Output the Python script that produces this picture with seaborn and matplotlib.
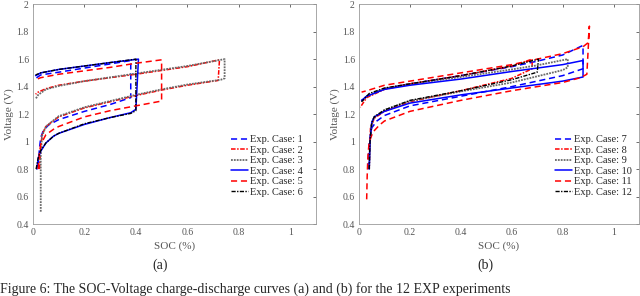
import numpy as np
import pandas as pd
import matplotlib
matplotlib.use("Agg")
import matplotlib.pyplot as plt
import seaborn as sns

# SOC-Voltage loops (charge branch, jump, discharge branch)
case1_soc = [0.02, 0.025, 0.03, 0.04, 0.06, 0.1, 0.2, 0.3, 0.38, 0.38, 0.3, 0.2, 0.1, 0.03, 0.01]
case1_v = [0.82, 0.95, 1.03, 1.08, 1.12, 1.16, 1.22, 1.27, 1.32, 1.59, 1.565, 1.535, 1.505, 1.485, 1.46]
case2_soc = [0.025, 0.03, 0.035, 0.05, 0.1, 0.2, 0.3, 0.4, 0.5, 0.6, 0.72, 0.725, 0.6, 0.4, 0.2, 0.1, 0.05, 0.02, 0.01]
case2_v = [0.8, 0.95, 1.05, 1.11, 1.18, 1.245, 1.29, 1.335, 1.375, 1.41, 1.445, 1.595, 1.545, 1.49, 1.44, 1.41, 1.385, 1.36, 1.345]
case3_soc = [0.03, 0.03, 0.035, 0.05, 0.1, 0.2, 0.3, 0.4, 0.5, 0.6, 0.73, 0.745, 0.745, 0.6, 0.4, 0.2, 0.1, 0.05, 0.02, 0.01]
case3_v = [0.49, 0.9, 1.04, 1.11, 1.185, 1.25, 1.295, 1.34, 1.38, 1.415, 1.45, 1.46, 1.60, 1.55, 1.495, 1.44, 1.405, 1.38, 1.34, 1.31]
case4_soc = [0.015, 0.02, 0.03, 0.05, 0.08, 0.1, 0.2, 0.3, 0.38, 0.4, 0.41, 0.3, 0.2, 0.1, 0.03, 0.01]
case4_v = [0.8, 0.88, 0.93, 0.99, 1.04, 1.06, 1.125, 1.175, 1.21, 1.235, 1.60, 1.575, 1.55, 1.525, 1.50, 1.48]
case5_soc = [0.02, 0.025, 0.03, 0.05, 0.08, 0.1, 0.2, 0.3, 0.4, 0.5, 0.5, 0.4, 0.3, 0.2, 0.1, 0.03, 0.01]
case5_v = [0.8, 0.92, 0.98, 1.05, 1.09, 1.11, 1.18, 1.225, 1.26, 1.295, 1.595, 1.57, 1.54, 1.515, 1.49, 1.465, 1.45]
case6_soc = [0.012, 0.02, 0.03, 0.05, 0.08, 0.1, 0.2, 0.3, 0.38, 0.4, 0.4, 0.3, 0.2, 0.1, 0.03, 0.01]
case6_v = [0.8, 0.88, 0.935, 0.99, 1.04, 1.06, 1.13, 1.175, 1.205, 1.225, 1.60, 1.575, 1.55, 1.525, 1.50, 1.485]

case7_soc = [0.035, 0.04, 0.05, 0.07, 0.1, 0.2, 0.4, 0.6, 0.8, 0.88, 0.88, 0.8, 0.7, 0.6, 0.4, 0.2, 0.1, 0.03, 0.01]
case7_v = [0.8, 1.0, 1.1, 1.15, 1.19, 1.26, 1.33, 1.40, 1.48, 1.53, 1.70, 1.63, 1.585, 1.545, 1.48, 1.42, 1.385, 1.33, 1.30]
case8_soc = [0.04, 0.042, 0.045, 0.06, 0.1, 0.2, 0.4, 0.6, 0.68, 0.68, 0.6, 0.4, 0.2, 0.1, 0.03, 0.005]
case8_v = [0.8, 0.95, 1.1, 1.17, 1.22, 1.29, 1.37, 1.46, 1.53, 1.60, 1.55, 1.48, 1.42, 1.38, 1.32, 1.25]
case9_soc = [0.04, 0.043, 0.05, 0.06, 0.1, 0.2, 0.4, 0.6, 0.8, 0.82, 0.82, 0.7, 0.6, 0.4, 0.2, 0.1, 0.03, 0.01]
case9_v = [0.8, 1.0, 1.13, 1.18, 1.23, 1.295, 1.365, 1.43, 1.52, 1.54, 1.60, 1.555, 1.525, 1.47, 1.42, 1.385, 1.33, 1.29]
case10_soc = [0.04, 0.043, 0.05, 0.06, 0.1, 0.2, 0.4, 0.6, 0.8, 0.88, 0.88, 0.8, 0.6, 0.4, 0.2, 0.1, 0.03, 0.01]
case10_v = [0.8, 1.0, 1.14, 1.18, 1.22, 1.28, 1.34, 1.39, 1.44, 1.47, 1.59, 1.56, 1.51, 1.455, 1.41, 1.38, 1.33, 1.30]
case11_soc = [0.03, 0.032, 0.035, 0.04, 0.055, 0.08, 0.1, 0.2, 0.4, 0.6, 0.8, 0.87, 0.895, 0.905, 0.9, 0.88, 0.8, 0.6, 0.4, 0.2, 0.1, 0.03, 0.01]
case11_v = [0.58, 0.75, 0.9, 1.0, 1.07, 1.12, 1.15, 1.22, 1.30, 1.37, 1.43, 1.465, 1.49, 1.84, 1.72, 1.69, 1.64, 1.56, 1.50, 1.44, 1.41, 1.37, 1.36]
case12_soc = [0.04, 0.043, 0.05, 0.06, 0.1, 0.2, 0.4, 0.6, 0.7, 0.705, 0.6, 0.4, 0.2, 0.1, 0.04, 0.01]
case12_v = [0.8, 1.0, 1.14, 1.18, 1.23, 1.30, 1.37, 1.45, 1.505, 1.60, 1.55, 1.48, 1.42, 1.39, 1.35, 1.29]

x_ticks = [0, 0.2, 0.4, 0.6, 0.8, 1]
x_tick_labels = ["0", "0.2", "0.4", "0.6", "0.8", "1"]
y_ticks = [0.4, 0.6, 0.8, 1.0, 1.2, 1.4, 1.6, 1.8, 2.0]
y_tick_labels = ["0.4", "0.6", "0.8", "1", "1.2", "1.4", "1.6", "1.8", "2"]

# line styles repeat in both panels
blue, red, gray, black = "#0000ff", "#ff0000", "#6a6a6a", "#000000"
styles = [
    (blue, (0, (4, 2.5)), 1.1),
    (red, (0, (3, 1, 1, 1)), 1.1),
    (gray, (0, (1, 0.6)), 1.3),
    (blue, "-", 1.1),
    (red, (0, (4, 2.5)), 1.1),
    (black, (0, (3, 1, 1, 1)), 1.0),
]

left_cases = [(case1_soc, case1_v), (case2_soc, case2_v), (case3_soc, case3_v),
              (case4_soc, case4_v), (case5_soc, case5_v), (case6_soc, case6_v)]
right_cases = [(case7_soc, case7_v), (case8_soc, case8_v), (case9_soc, case9_v),
               (case10_soc, case10_v), (case11_soc, case11_v), (case12_soc, case12_v)]

sns.set_style("white")
plt.rcParams["font.family"] = ["Liberation Serif", "DejaVu Serif"]

fig = plt.figure(figsize=(6.4, 2.96), dpi=100)
ax_a = fig.add_axes([0.0516, 0.243, 0.442, 0.743])
ax_b = fig.add_axes([0.561, 0.243, 0.4375, 0.743])

for ax, cases, first in [(ax_a, left_cases, 1), (ax_b, right_cases, 7)]:
    for i, (soc, v) in enumerate(cases):
        color, ls, lw = styles[i]
        df = pd.DataFrame({"SOC": soc, "Voltage": v})
        sns.lineplot(data=df, x="SOC", y="Voltage", sort=False, estimator=None,
                     color=color, linestyle=ls, linewidth=lw,
                     label=f"Exp. Case: {first + i}", ax=ax)
    ax.set_xlim(0, 1.1)
    ax.set_ylim(0.4, 2)
    ax.set_xticks(x_ticks)
    ax.set_xticklabels(x_tick_labels)
    ax.set_yticks(y_ticks)
    ax.set_yticklabels(y_tick_labels)
    ax.tick_params(direction="in", length=2.5, width=0.6, labelsize=7,
                   colors="#555555", top=True, right=True, pad=3)
    for sp in ax.spines.values():
        sp.set_color("#9a9a9a")
        sp.set_linewidth(0.6)
    ax.set_xlabel("SOC (%)", fontsize=8, color="#555555", labelpad=3)
    ax.set_ylabel("Voltage (V)", fontsize=8, color="#555555", labelpad=2)
    ax.legend(loc="upper left", bbox_to_anchor=(0.70, 0.405), frameon=False,
              fontsize=7.5, handlelength=1.6, handletextpad=0.2,
              labelspacing=0.12, borderpad=0, borderaxespad=0)

fig.text(0.25, 0.105, "(a)", ha="center", va="center", fontsize=10)
fig.text(0.758, 0.105, "(b)", ha="center", va="center", fontsize=10)
fig.text(0.0, 0.012, "Figure 6: The SOC-Voltage charge-discharge curves (a) and (b) for the 12 EXP experiments",
         ha="left", va="baseline", fontsize=10)

fig.savefig("out.png", dpi=100)
